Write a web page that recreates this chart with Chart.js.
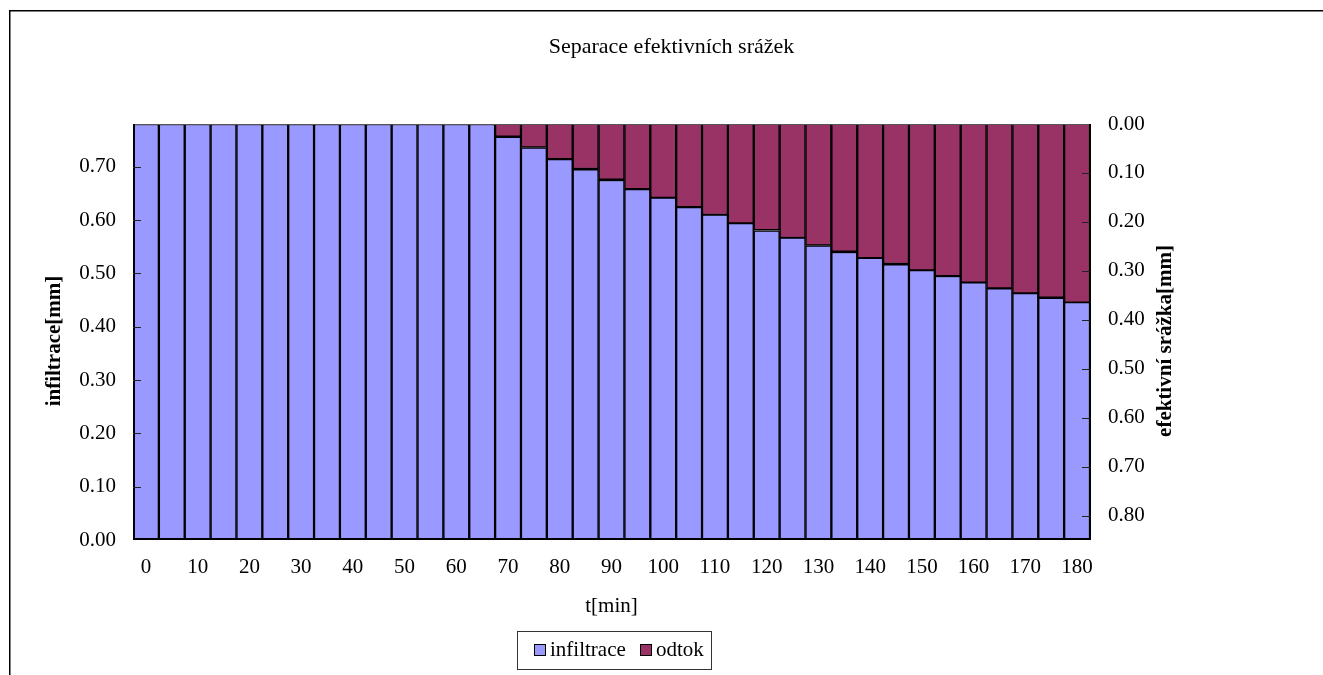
<!DOCTYPE html>
<html>
<head>
<meta charset="utf-8">
<title>Separace efektivních srážek</title>
<script src="https://cdn.jsdelivr.net/npm/chart.js@4.4.1/dist/chart.umd.min.js"></script>
<style>
  html, body { margin: 0; padding: 0; background: #ffffff; }
  #c { display: block; }
</style>
</head>
<body>
<canvas id="c" width="1323" height="675"></canvas>
<script>
// Time steps [min]
const minutes = [0, 5, 10, 15, 20, 25, 30, 35, 40, 45, 50, 55, 60, 65, 70, 75, 80, 85, 90,
                 95, 100, 105, 110, 115, 120, 125, 130, 135, 140, 145, 150, 155, 160, 165, 170, 175, 180];

// Infiltration per step [mm] (left axis)
const infiltrace = [0.78, 0.78, 0.78, 0.78, 0.78, 0.78, 0.78, 0.78, 0.78, 0.78, 0.78, 0.78, 0.78, 0.78,
                    0.756, 0.736, 0.714, 0.695, 0.675, 0.658, 0.642, 0.624, 0.610, 0.594, 0.580, 0.567,
                    0.552, 0.540, 0.529, 0.517, 0.506, 0.495, 0.483, 0.472, 0.463, 0.454, 0.446];

// Effective rainfall (runoff) per step [mm] (right axis, reversed)
const odtok = [0, 0, 0, 0, 0, 0, 0, 0, 0, 0, 0, 0, 0, 0,
               0.026, 0.048, 0.072, 0.092, 0.114, 0.133, 0.151, 0.170, 0.186, 0.203, 0.217, 0.233,
               0.248, 0.261, 0.274, 0.286, 0.299, 0.311, 0.324, 0.336, 0.346, 0.355, 0.365];

// Axis ranges and labels
const leftMax = 0.78;
const rightMax = 0.85;
const tickStep = 0.1;
const chartTitle = 'Separace efektivních srážek';
const xTitle = 't[min]';
const leftTitle = 'infiltrace[mm]';
const rightTitle = 'efektivní srážka[mm]';

const FONT = '"Liberation Serif", "Times New Roman", serif';
const BLUE = '#9999ff';
const PLUM = '#993366';

// Page frame, plot frame, inward tick marks, rotated axis titles and boxed legend
const decor = {
  id: 'decor',
  beforeDraw(chart) {
    const ctx = chart.ctx;
    ctx.save();
    ctx.fillStyle = '#ffffff';
    ctx.fillRect(0, 0, chart.width, chart.height);
    ctx.strokeStyle = '#000000';
    ctx.lineWidth = 1.5;
    ctx.strokeRect(9.75, 10.75, chart.width + 20, chart.height + 20);
    ctx.restore();
  },
  afterDatasetsDraw(chart) {
    const ctx = chart.ctx;
    const a = chart.chartArea;
    const yL = chart.scales.y, yR = chart.scales.y1;
    ctx.save();
    // plot frame
    ctx.strokeStyle = '#555555';
    ctx.lineWidth = 1.2;
    ctx.beginPath();
    ctx.moveTo(a.left, a.top + 0.5); ctx.lineTo(a.right, a.top + 0.5);
    ctx.stroke();
    ctx.strokeStyle = '#000000';
    ctx.lineWidth = 2;
    ctx.beginPath();
    ctx.moveTo(a.left + 1, a.top); ctx.lineTo(a.left + 1, a.bottom);
    ctx.moveTo(a.left, a.bottom - 1); ctx.lineTo(a.right, a.bottom - 1);
    ctx.moveTo(a.right, a.top); ctx.lineTo(a.right, a.bottom);
    ctx.stroke();
    // inward tick marks
    ctx.lineWidth = 1;
    ctx.strokeStyle = '#222222';
    ctx.beginPath();
    yL.ticks.forEach(t => {
      if (t.value === 0) return;
      const p = Math.round(yL.getPixelForValue(t.value)) + 0.5;
      ctx.moveTo(a.left, p); ctx.lineTo(a.left + 8, p);
    });
    yR.ticks.forEach(t => {
      if (t.value === 0) return;
      const p = Math.round(yR.getPixelForValue(t.value)) + 0.5;
      ctx.moveTo(a.right - 8, p); ctx.lineTo(a.right, p);
    });
    ctx.stroke();
    ctx.restore();
  },
  afterDraw(chart) {
    const ctx = chart.ctx;
    const a = chart.chartArea;
    ctx.save();
    ctx.fillStyle = '#000000';
    ctx.font = 'bold 21px ' + FONT;
    ctx.textAlign = 'center';
    ctx.textBaseline = 'middle';
    const midY = (a.top + a.bottom) / 2 + 9;
    // left axis title
    ctx.save();
    ctx.translate(55, midY);
    ctx.rotate(-Math.PI / 2);
    ctx.fillText(leftTitle, 0, 0);
    ctx.restore();
    // right axis title
    ctx.save();
    ctx.translate(1166, midY);
    ctx.rotate(-Math.PI / 2);
    ctx.fillText(rightTitle, 0, 0);
    ctx.restore();

    // legend
    const bx = 517.5, by = 631.5, bw = 194, bh = 38;
    ctx.fillStyle = '#ffffff';
    ctx.fillRect(bx, by, bw, bh);
    ctx.strokeStyle = '#333333';
    ctx.lineWidth = 1;
    ctx.strokeRect(bx, by, bw, bh);
    ctx.font = '21px ' + FONT;
    ctx.textAlign = 'left';
    ctx.textBaseline = 'middle';
    const items = [
      { x: 534, ds: chart.data.datasets[0] },
      { x: 640, ds: chart.data.datasets[1] }
    ];
    items.forEach(it => {
      ctx.fillStyle = it.ds.backgroundColor;
      ctx.fillRect(it.x + 0.5, 644.5, 11, 11);
      ctx.strokeStyle = '#000000';
      ctx.strokeRect(it.x + 0.5, 644.5, 11, 11);
      ctx.fillStyle = '#000000';
      ctx.fillText(it.ds.label, it.x + 16, 650.5);
    });
    ctx.restore();
  }
};

new Chart(document.getElementById('c'), {
  type: 'bar',
  data: {
    labels: minutes,
    datasets: [
      {
        label: 'infiltrace',
        data: infiltrace,
        yAxisID: 'y',
        backgroundColor: BLUE,
        borderColor: '#000000',
        borderWidth: 1.5,
        grouped: false,
        order: 1,
        barPercentage: 1,
        categoryPercentage: 1
      },
      {
        label: 'odtok',
        data: odtok,
        yAxisID: 'y1',
        backgroundColor: PLUM,
        borderColor: '#000000',
        borderWidth: 1.5,
        grouped: false,
        order: 0,
        barPercentage: 1,
        categoryPercentage: 1
      }
    ]
  },
  options: {
    responsive: false,
    animation: false,
    devicePixelRatio: 1,
    layout: { padding: { left: 20, right: 0, top: 0, bottom: 0 } },
    plugins: {
      legend: { display: false },
      tooltip: { enabled: false },
      title: {
        display: true,
        text: chartTitle,
        color: '#000000',
        font: { family: FONT, size: 22, weight: 'normal', lineHeight: 1.2 },
        padding: { top: 34, bottom: 63.6 }
      }
    },
    scales: {
      x: {
        grid: { display: false, drawTicks: false },
        border: { display: false },
        ticks: {
          autoSkip: false,
          maxRotation: 0,
          padding: 15,
          color: '#000000',
          font: { family: FONT, size: 21 },
          callback: function (value, index) {
            return index % 2 === 0 ? String(minutes[index]) : '';
          }
        },
        title: {
          display: true,
          text: xTitle,
          color: '#000000',
          font: { family: FONT, size: 21 },
          padding: { top: 0, bottom: 56 }
        },
        afterFit(scale) { scale.height = 135; }
      },
      y: {
        position: 'left',
        min: 0,
        max: leftMax,
        grid: { display: false, drawTicks: false },
        border: { display: false },
        ticks: {
          stepSize: tickStep,
          includeBounds: false,
          padding: 17,
          color: '#000000',
          font: { family: FONT, size: 21 },
          callback: v => Number(v).toFixed(2)
        },
        afterFit(scale) { scale.width = 113; }
      },
      y1: {
        position: 'right',
        reverse: true,
        min: 0,
        max: rightMax,
        grid: { display: false, drawTicks: false },
        border: { display: false },
        ticks: {
          stepSize: tickStep,
          includeBounds: false,
          padding: 18,
          color: '#000000',
          font: { family: FONT, size: 21 },
          callback: v => Number(v).toFixed(2)
        },
        afterFit(scale) { scale.width = 233; }
      }
    }
  },
  plugins: [decor]
});
</script>
</body>
</html>
